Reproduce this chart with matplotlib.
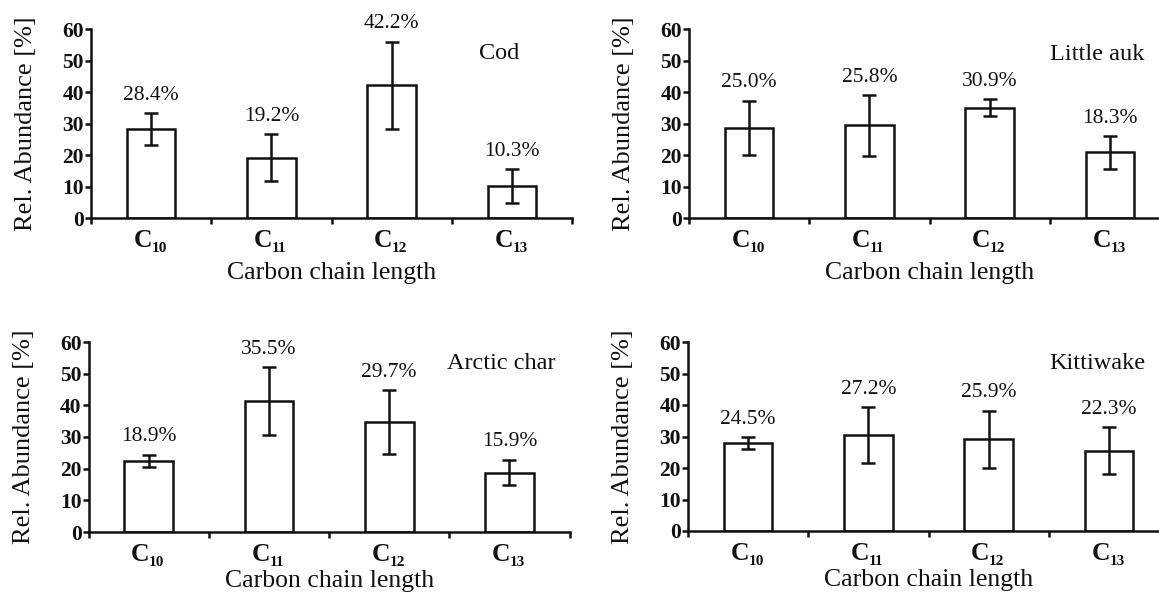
import matplotlib
matplotlib.use("Agg")
import matplotlib.pyplot as plt
from matplotlib import transforms
import numpy as np

plt.rcParams['font.family'] = ['Liberation Serif', 'DejaVu Serif']

# Carbon chain lengths on the x axis (drawn as C with a subscript)
chain_lengths = ['10', '11', '12', '13']

# Mean relative abundance per chain length [%]
cod_mean = [28.4, 19.2, 42.2, 10.3]
auk_mean = [28.7, 29.5, 35.1, 20.9]
char_mean = [22.4, 41.3, 34.6, 18.7]
kitti_mean = [27.9, 30.4, 29.1, 25.5]

# Standard deviations
cod_sd = [5.0, 7.5, 13.8, 5.3]
auk_sd = [8.6, 9.6, 2.7, 5.2]
char_sd = [2.0, 10.7, 10.1, 4.0]
kitti_sd = [1.8, 8.9, 9.1, 7.5]

# Share of total printed above each bar [%]
cod_share = [28.4, 19.2, 42.2, 10.3]
auk_share = [25.0, 25.8, 30.9, 18.3]
char_share = [18.9, 35.5, 29.7, 15.9]
kitti_share = [24.5, 27.2, 25.9, 22.3]

species = ['Cod', 'Little auk', 'Arctic char', 'Kittiwake']
y_ticks = [0, 10, 20, 30, 40, 50, 60]

panels = [
    (species[0], cod_mean, cod_sd, cod_share),
    (species[1], auk_mean, auk_sd, auk_share),
    (species[2], char_mean, char_sd, char_share),
    (species[3], kitti_mean, kitti_sd, kitti_share),
]

W, H = 1159, 594
fig = plt.figure(figsize=(W / 100, H / 100), dpi=100)

# axes boxes in pixels: left, y of the zero line from the top, width, height
rects = [
    (91, 218.3, 481, 189),
    (689, 218.3, 481, 189),
    (88.6, 532, 481, 190),
    (688, 531, 481, 189),
]
title_x = [0.89, 0.947, 0.97, 0.95]
title_y = [50.5, 50.4, 51.6, 51.3]
xlabel_pad = [24, 24, 20, 20]

ink = '#111111'
lw = 1.8
px = 72 / 100  # points per pixel

for (name, mean, sd, share), (l, b, w, h), tx, ty, xpad in zip(
        panels, rects, title_x, title_y, xlabel_pad):
    ax = fig.add_axes([l / W, (H - b) / H, w / W, h / H])
    x = np.arange(len(mean))
    ax.bar(x, mean, width=0.405, color='white', edgecolor=ink, linewidth=lw, zorder=2)
    ax.errorbar(x, mean, yerr=sd, fmt='none', ecolor=ink, elinewidth=lw,
                capsize=5, capthick=lw, zorder=3)
    for xi, m, s, p in zip(x, mean, sd, share):
        ax.text(xi, m + s + 4.3, f'{p:.1f}%', ha='center', va='baseline',
                fontsize=15.5, color=ink)
    ax.text(tx, ty, name,
            transform=transforms.blended_transform_factory(ax.transAxes, ax.transData),
            ha='right', va='baseline', fontsize=17.5, color=ink)

    # category labels: C with subscript chain length
    for xi, n in zip(x, chain_lengths):
        ax.annotate('C', xy=(xi, 0), xycoords=('data', 'axes fraction'),
                    xytext=(1.0 * px, -29 * px), textcoords='offset points',
                    ha='right', va='baseline', fontsize=18.5, fontweight='bold',
                    color=ink, annotation_clip=False)
        ax.annotate(n, xy=(xi, 0), xycoords=('data', 'axes fraction'),
                    xytext=(0.5 * px, -34 * px), textcoords='offset points',
                    ha='left', va='baseline', fontsize=11, fontweight='bold',
                    color=ink, annotation_clip=False)

    ax.set_xlim(-0.5, 3.5)
    ax.set_ylim(0, 60)
    ax.set_yticks(y_ticks)
    ax.set_yticklabels([str(t) for t in y_ticks], fontweight='bold', fontsize=15.5, color=ink)
    ax.set_xticks(np.arange(-0.5, 4.0, 1.0))
    ax.set_xticklabels([])
    ax.tick_params(axis='x', which='major', direction='out', length=4, width=lw, color=ink)
    ax.tick_params(axis='y', direction='out', length=4, width=lw, color=ink, pad=1)
    for side in ('top', 'right'):
        ax.spines[side].set_visible(False)
    for side in ('left', 'bottom'):
        ax.spines[side].set_linewidth(lw)
        ax.spines[side].set_color(ink)
    ax.set_ylabel('Rel. Abundance [%]', fontsize=19, color=ink, labelpad=18)
    ax.set_xlabel('Carbon chain length', fontsize=18.5, color=ink, labelpad=xpad)
    ax.patch.set_visible(False)

fig.savefig('out.png', dpi=100, facecolor='white')
